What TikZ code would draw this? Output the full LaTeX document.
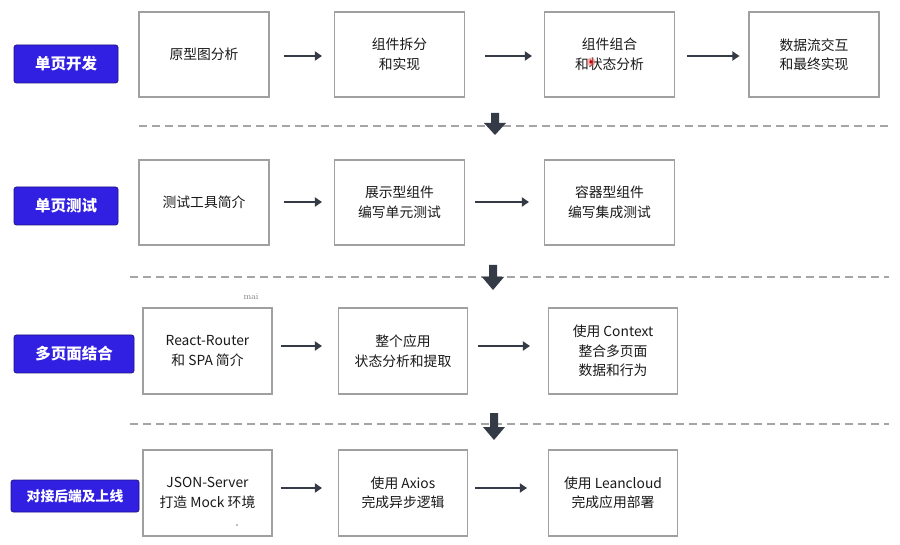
\documentclass[tikz,border=0pt]{standalone}
\usepackage{fontspec}
\setmainfont{Noto Sans CJK SC}
\newfontfamily\lmfont{Latin Modern Roman}
\usetikzlibrary{arrows.meta}
\definecolor{boxline}{RGB}{160,160,160}
\definecolor{labfill}{RGB}{50,32,226}
\definecolor{labline}{RGB}{30,20,130}
\definecolor{arrcol}{RGB}{52,58,70}
\definecolor{txt}{RGB}{25,25,25}
\definecolor{dashcol}{RGB}{165,165,165}
\tikzset{
  stepbox/.style={draw=boxline, line width=1.1pt, fill=white, minimum width=130pt, minimum height=85pt, align=center, font=\fontsize{13.8}{19.5}\selectfont, text=txt, inner sep=0pt},
  labbox/.style={draw=labline, line width=0.8pt, fill=labfill, rounded corners=2.5pt, minimum height=38pt, text=white, font=\fontsize{15.5}{18}\selectfont\bfseries, inner sep=0pt},
  flow/.style={draw=arrcol, line width=2.4pt, -{Triangle[length=7pt,width=9pt]}},
  sep/.style={draw=dashcol, line width=1.4pt, dash pattern=on 8pt off 5pt},
  downarr/.style={fill=arrcol, draw=none}
}
\begin{document}
\begin{tikzpicture}[x=1pt,y=-1pt]
\useasboundingbox[fill=white] (0,0) rectangle (900,545);

% Row 1
\node[labbox, minimum width=104pt] (l1) at (66,64) {单页开发};
\node[stepbox] (a1) at (204,54.5) {原型图分析};
\node[stepbox] (a2) at (399.5,54.5) {组件拆分\\和实现};
\node[stepbox] (a3) at (609.5,54.5) {组件组合\\和状态分析};
\node[stepbox] (a4) at (814,54.5) {数据流交互\\和最终实现};
\draw[flow] ([xshift=14pt,yshift=-1.5pt]a1.east) -- ([xshift=-12pt,yshift=-1.5pt]a2.west);
\draw[flow] ([xshift=20pt,yshift=-1.5pt]a2.east) -- ([xshift=-12pt,yshift=-1.5pt]a3.west);
\draw[flow] ([xshift=12pt,yshift=-1.5pt]a3.east) -- ([xshift=-9pt,yshift=-1.5pt]a4.west);
\fill[red!60!white, opacity=0.5] (591,62) circle (4.5pt);
\fill[red!80!black] (591,62) circle (1.8pt);

% separator 1
\coordinate (s1a) at (139,126);
\coordinate (s1b) at (889,126);
\draw[sep] (s1a) -- (s1b);
\fill[downarr] (491,113) -- (499,113) -- (499,123) -- (506,123) -- (495,135) -- (484,123) -- (491,123) -- cycle;

% Row 2
\node[labbox, minimum width=104pt] (l2) at (66,206) {单页测试};
\node[stepbox] (b1) at (204,202.5) {测试工具简介};
\node[stepbox] (b2) at (399.5,202.5) {展示型组件\\编写单元测试};
\node[stepbox] (b3) at (609.5,202.5) {容器型组件\\编写集成测试};
\draw[flow] ([xshift=14pt,yshift=0.5pt]b1.east) -- ([xshift=-12pt,yshift=0.5pt]b2.west);
\draw[flow] ([xshift=10pt,yshift=0.5pt]b2.east) -- ([xshift=-15pt,yshift=0.5pt]b3.west);

% separator 2
\coordinate (s2a) at (130,277);
\coordinate (s2b) at (889,277);
\draw[sep] (s2a) -- (s2b);
\fill[downarr] (489,265) -- (497,265) -- (497,277) -- (504,277) -- (493,290) -- (482,277) -- (489,277) -- cycle;

% Row 3
\node[font=\lmfont\fontsize{9}{10}\selectfont, text=gray] (mai) at (251,297) {mai};
\node[labbox, minimum width=120pt] (l3) at (74,354) {多页面结合};
\node[stepbox, minimum width=129pt, minimum height=86pt] (c1) at (207.5,351) {React-Router\\和 SPA 简介};
\node[stepbox, minimum width=129pt, minimum height=86pt] (c2) at (403,351) {整个应用\\状态分析和提取};
\node[stepbox, minimum width=129pt, minimum height=86pt] (c3) at (613,351) {使用 Context\\整合多页面\\数据和行为};
\draw[flow] ([xshift=8pt,yshift=5pt]c1.east) -- ([xshift=-16pt,yshift=5pt]c2.west);
\draw[flow] ([xshift=10pt,yshift=5pt]c2.east) -- ([xshift=-18pt,yshift=5pt]c3.west);

% separator 3
\coordinate (s3a) at (130,424);
\coordinate (s3b) at (889,424);
\draw[sep] (s3a) -- (s3b);
\fill[downarr] (490,413) -- (498,413) -- (498,427) -- (505,427) -- (494,440) -- (483,427) -- (490,427) -- cycle;

% Row 4
\node[labbox, minimum width=128pt, minimum height=32pt, font=\fontsize{13.8}{16}\selectfont\bfseries] (l4) at (75,496) {对接后端及上线};
\node[stepbox, minimum width=129pt, minimum height=86pt] (d1) at (207.5,493) {JSON-Server\\打造 Mock 环境};
\node[stepbox, minimum width=129pt, minimum height=86pt] (d2) at (403,493) {使用 Axios\\完成异步逻辑};
\node[stepbox, minimum width=129pt, minimum height=86pt] (d3) at (613,493) {使用 Leancloud\\完成应用部署};
\draw[flow] ([xshift=8pt,yshift=5pt]d1.east) -- ([xshift=-16pt,yshift=5pt]d2.west);
\draw[flow] ([xshift=7pt,yshift=5pt]d2.east) -- ([xshift=-21pt,yshift=5pt]d3.west);
\fill[gray] (237,525) circle (0.8pt);
\end{tikzpicture}
\end{document}
